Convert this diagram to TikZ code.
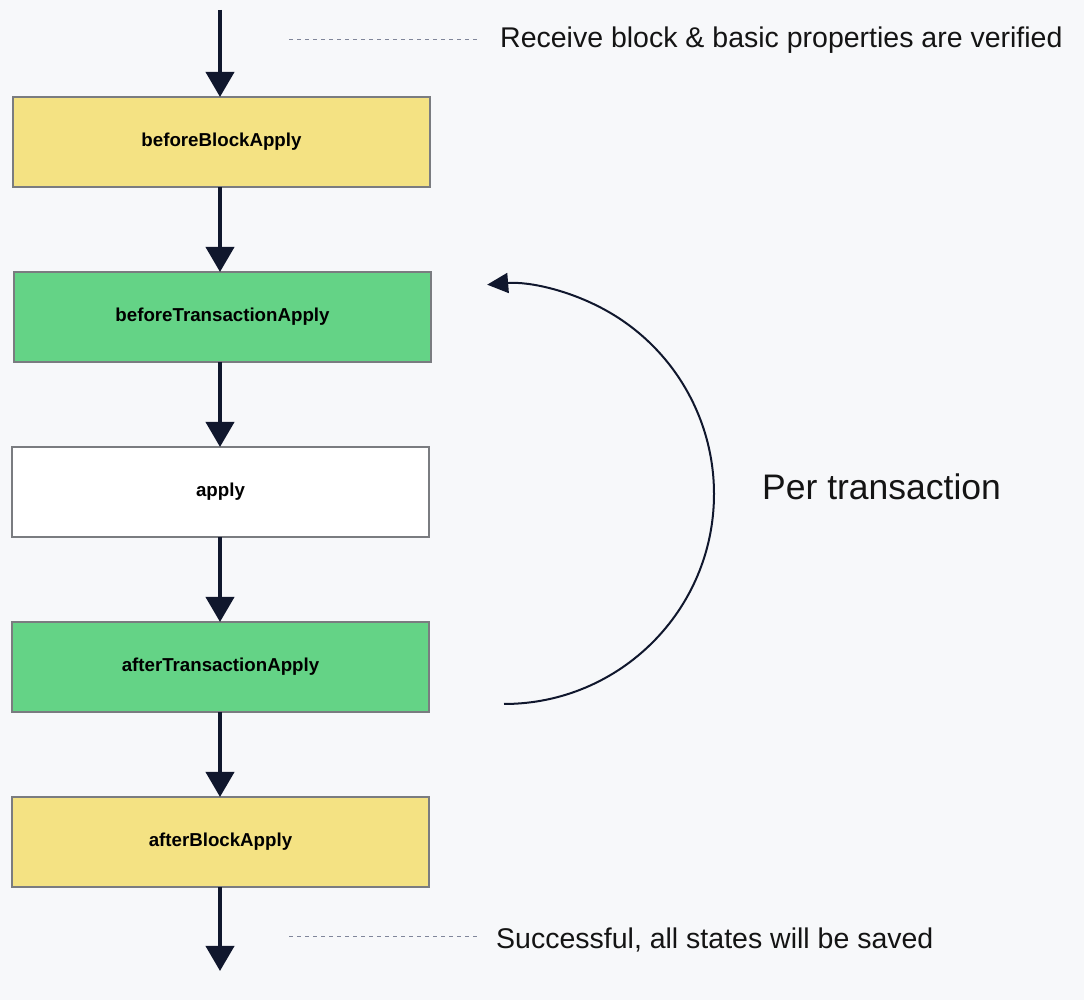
\documentclass[tikz,border=0pt]{standalone}
\usepackage{fontspec}
\setmainfont{Liberation Sans}
\usetikzlibrary{arrows.meta}
\definecolor{bgc}{HTML}{F7F8FA}
\definecolor{ylw}{HTML}{F4E283}
\definecolor{grn}{HTML}{64D386}
\definecolor{navy}{HTML}{10172D}
\definecolor{bordc}{HTML}{7A7C80}
\definecolor{dashc}{HTML}{80869A}
\tikzset{
  stagebox/.style={draw=bordc, line width=1.2pt, minimum width=417pt, minimum height=90pt, inner sep=0pt,
    font=\fontsize{18.7}{22}\selectfont\bfseries, text=black},
  flow/.style={draw=navy, line width=4pt, -{Triangle[length=25pt,width=28pt]}},
  loopar/.style={draw=navy, line width=2pt, -{Triangle[length=21pt,width=20pt]}},
  guide/.style={draw=dashc, line width=1pt, dash pattern=on 4pt off 4pt},
  note/.style={anchor=west, inner sep=0pt, font=\fontsize{28.5}{33}\selectfont, text=black!92},
}
\begin{document}
\begin{tikzpicture}[x=1pt,y=1pt]
\fill[bgc] (0,0) rectangle (1084,1000);
\useasboundingbox (0,0) rectangle (1084,1000);

\node[stagebox, fill=ylw] (b1) at (221.5,858) {beforeBlockApply};
\node[stagebox, fill=grn] (b2) at (222.5,683) {beforeTransactionApply};
\node[stagebox, fill=white] (b3) at (220.5,508) {apply};
\node[stagebox, fill=grn] (b4) at (220.5,333) {afterTransactionApply};
\node[stagebox, fill=ylw] (b5) at (220.5,158) {afterBlockApply};

\coordinate (top) at (220,990);
\coordinate (bot) at (220,29);

\draw[flow] (top) -- (220,903);
\draw[flow] (220,813) -- (220,728);
\draw[flow] (220,638) -- (220,553);
\draw[flow] (220,463) -- (220,378);
\draw[flow] (220,288) -- (220,203);
\draw[flow] (220,113) -- (bot);

\coordinate (d1a) at (289,960);
\coordinate (d1b) at (480,960);
\draw[guide] (d1a) -- (d1b);
\node[note] (t1) at (500,960) {Receive block \& basic properties are verified};

\coordinate (d2a) at (289,63);
\coordinate (d2b) at (479,63);
\draw[guide] (d2a) -- (d2b);
\node[note] (t2) at (496,60) {Successful, all states will be saved};

\coordinate (arcs) at (504,296);
\draw[loopar] (arcs) arc[start angle=-90, end angle=94.6, radius=210];

\node[anchor=west, inner sep=0pt, font=\fontsize{35.5}{40}\selectfont, text=black!92] (pt) at (762,513) {Per transaction};
\end{tikzpicture}
\end{document}
